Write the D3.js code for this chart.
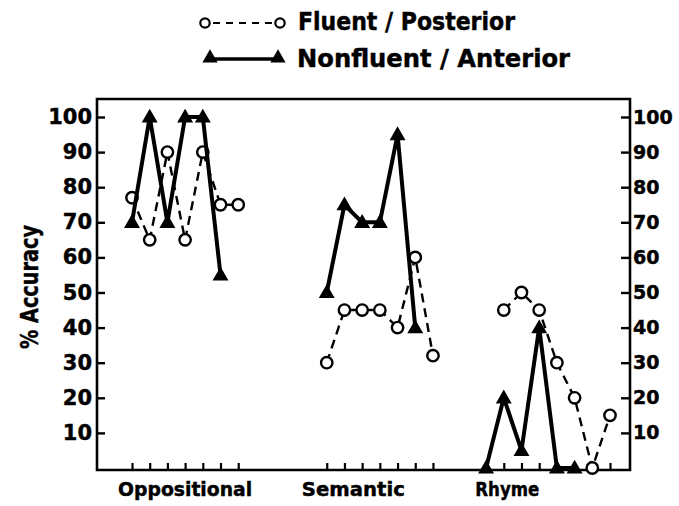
<!DOCTYPE html>
<html>
<head>
<meta charset="utf-8">
<script src="https://cdn.jsdelivr.net/npm/d3@7/dist/d3.min.js"></script>
<style>
  html, body { margin: 0; padding: 0; background: #fff; }
  svg { display: block; }
  text { font-family: "DejaVu Sans", "Liberation Sans", sans-serif; font-weight: bold; fill: #000; stroke: #000; stroke-width: 0.45; }
</style>
</head>
<body>
<svg id="chart" width="679" height="506"></svg>
<script>
// Task categories and the slot index where each group's ticks begin
const categories = ["Oppositional", "Semantic", "Rhyme"];
const groupStart = [0, 11, 20];
const groupTickCount = [7, 7, 8];

// % accuracy per item, Fluent / Posterior group (null = no point)
const fluentOppositional = [77, 65, 90, 65, 90, 75, 75];
const fluentSemantic     = [30, 45, 45, 45, 40, 60, 32];
const fluentRhyme        = [null, 45, 50, 45, 30, 20, 0, 15];

// % accuracy per item, Nonfluent / Anterior group
const nonfluentOppositional = [70, 100, 70, 100, 100, 55];
const nonfluentSemantic     = [50, 75, 70, 70, 95, 40];
const nonfluentRhyme        = [0, 20, 5, 40, 0, 0];

const yTicks = [10, 20, 30, 40, 50, 60, 70, 80, 90, 100];
const seriesNames = ["Fluent / Posterior", "Nonfluent / Anterior"];

const fluent = [fluentOppositional, fluentSemantic, fluentRhyme];
const nonfluent = [nonfluentOppositional, nonfluentSemantic, nonfluentRhyme];

const svg = d3.select("#chart");

// Frame
const frame = { left: 97, right: 630, top: 99, bottom: 470 };

const x = d3.scaleLinear().domain([0, 27]).range([132, 610]);
const y = d3.scaleLinear().domain([0, 100]).range([468, 117]);

const g = svg.append("g");

// Box around the plot
g.append("path")
  .attr("d", `M${frame.left},${frame.top}H${frame.right}V${frame.bottom}H${frame.left}Z`)
  .attr("fill", "none").attr("stroke", "#000").attr("stroke-width", 2.6);

// Left axis: ticks inward, labels outside
const leftAxis = d3.axisRight(y).tickValues(yTicks).tickSize(8).tickPadding(0).tickFormat("");
g.append("g").attr("transform", `translate(${frame.left},0)`).call(leftAxis)
  .call(s => s.select(".domain").remove())
  .call(s => s.selectAll(".tick line").attr("stroke", "#000").attr("stroke-width", 2.4));
g.append("g").selectAll("text").data(yTicks).join("text")
  .attr("x", frame.left - 5).attr("y", d => y(d) + 1)
  .attr("text-anchor", "end").attr("dominant-baseline", "middle")
  .attr("font-size", 21).text(d => d);

// Right axis: ticks inward, labels outside
const rightAxis = d3.axisLeft(y).tickValues(yTicks).tickSize(9).tickFormat("");
g.append("g").attr("transform", `translate(${frame.right},0)`).call(rightAxis)
  .call(s => s.select(".domain").remove())
  .call(s => s.selectAll(".tick line").attr("stroke", "#000").attr("stroke-width", 2.4));
g.append("g").selectAll("text").data(yTicks).join("text")
  .attr("x", frame.right + 3).attr("y", d => y(d) + 1)
  .attr("text-anchor", "start").attr("dominant-baseline", "middle")
  .attr("font-size", 19).text(d => d);

// Bottom tick marks for each item slot
const slots = [];
categories.forEach((c, i) => {
  for (let k = 0; k < groupTickCount[i]; k++) slots.push(groupStart[i] + k);
});
const bottomAxis = d3.axisTop(x).tickValues(slots).tickSize(7).tickFormat("");
g.append("g").attr("transform", `translate(0,${frame.bottom})`).call(bottomAxis)
  .call(s => s.select(".domain").remove())
  .call(s => s.selectAll(".tick line").attr("stroke", "#000").attr("stroke-width", 2.2));

// Category labels under each group
const labelSlot = [3.0, 12.5, 21.2];
const labelWidth = [134, 103, 64];
g.append("g").selectAll("text").data(categories).join("text")
  .attr("x", (d, i) => x(labelSlot[i]))
  .attr("y", 496)
  .attr("text-anchor", "middle")
  .attr("font-size", 19)
  .attr("textLength", (d, i) => labelWidth[i])
  .attr("lengthAdjust", "spacingAndGlyphs")
  .text(d => d);

// Y axis title
svg.append("text")
  .attr("transform", "translate(38,287) rotate(-90)")
  .attr("text-anchor", "middle")
  .attr("font-size", 24)
  .attr("textLength", 124)
  .attr("lengthAdjust", "spacingAndGlyphs")
  .text("% Accuracy");

// Build per-group point lists
function points(groups) {
  return groups.map((vals, i) => vals
    .map((v, k) => ({ slot: groupStart[i] + k, value: v }))
    .filter(p => p.value !== null));
}
const fluentPts = points(fluent);
const nonfluentPts = points(nonfluent);

const line = d3.line().x(p => x(p.slot)).y(p => y(p.value));
const triangle = d3.symbol().type(d3.symbolTriangle).size(110);

// Fluent / Posterior: dashed line with open circles
const fl = g.append("g");
fl.selectAll("path.seg").data(fluentPts).join("path")
  .attr("class", "seg")
  .attr("d", line)
  .attr("fill", "none").attr("stroke", "#000")
  .attr("stroke-width", 2.4).attr("stroke-dasharray", "9,6");
fl.selectAll("circle").data(fluentPts.flat()).join("circle")
  .attr("cx", p => x(p.slot)).attr("cy", p => y(p.value)).attr("r", 5.7)
  .attr("fill", "#fff").attr("stroke", "#000").attr("stroke-width", 2.4);

// Nonfluent / Anterior: solid line with filled triangles
const nf = g.append("g");
nf.selectAll("path.seg").data(nonfluentPts).join("path")
  .attr("class", "seg")
  .attr("d", line)
  .attr("fill", "none").attr("stroke", "#000")
  .attr("stroke-width", 4).attr("stroke-linejoin", "round");
nf.selectAll("path.tri").data(nonfluentPts.flat()).join("path")
  .attr("class", "tri")
  .attr("d", triangle)
  .attr("transform", p => `translate(${x(p.slot)},${y(p.value) + 1})`)
  .attr("fill", "#000");

// Legend
const legend = svg.append("g");
// Row 1: dashed with circles
legend.append("line")
  .attr("x1", 205).attr("x2", 280).attr("y1", 23).attr("y2", 23)
  .attr("stroke", "#000").attr("stroke-width", 2.2).attr("stroke-dasharray", "7,6")
  .attr("stroke-dashoffset", -8);
legend.selectAll("circle").data([205, 280]).join("circle")
  .attr("cx", d => d).attr("cy", 23).attr("r", 4.7)
  .attr("fill", "#fff").attr("stroke", "#000").attr("stroke-width", 2.2);
legend.append("text")
  .attr("x", 298).attr("y", 30).attr("font-size", 25)
  .attr("textLength", 217).attr("lengthAdjust", "spacingAndGlyphs")
  .text(seriesNames[0]);
// Row 2: solid with triangles
legend.append("line")
  .attr("x1", 210).attr("x2", 278).attr("y1", 59).attr("y2", 59)
  .attr("stroke", "#000").attr("stroke-width", 3.6);
legend.selectAll("path").data([210, 278]).join("path")
  .attr("d", d3.symbol().type(d3.symbolTriangle).size(100))
  .attr("transform", d => `translate(${d},58)`).attr("fill", "#000");
legend.append("text")
  .attr("x", 297).attr("y", 67).attr("font-size", 25)
  .attr("textLength", 273).attr("lengthAdjust", "spacingAndGlyphs")
  .text(seriesNames[1]);
</script>
</body>
</html>
